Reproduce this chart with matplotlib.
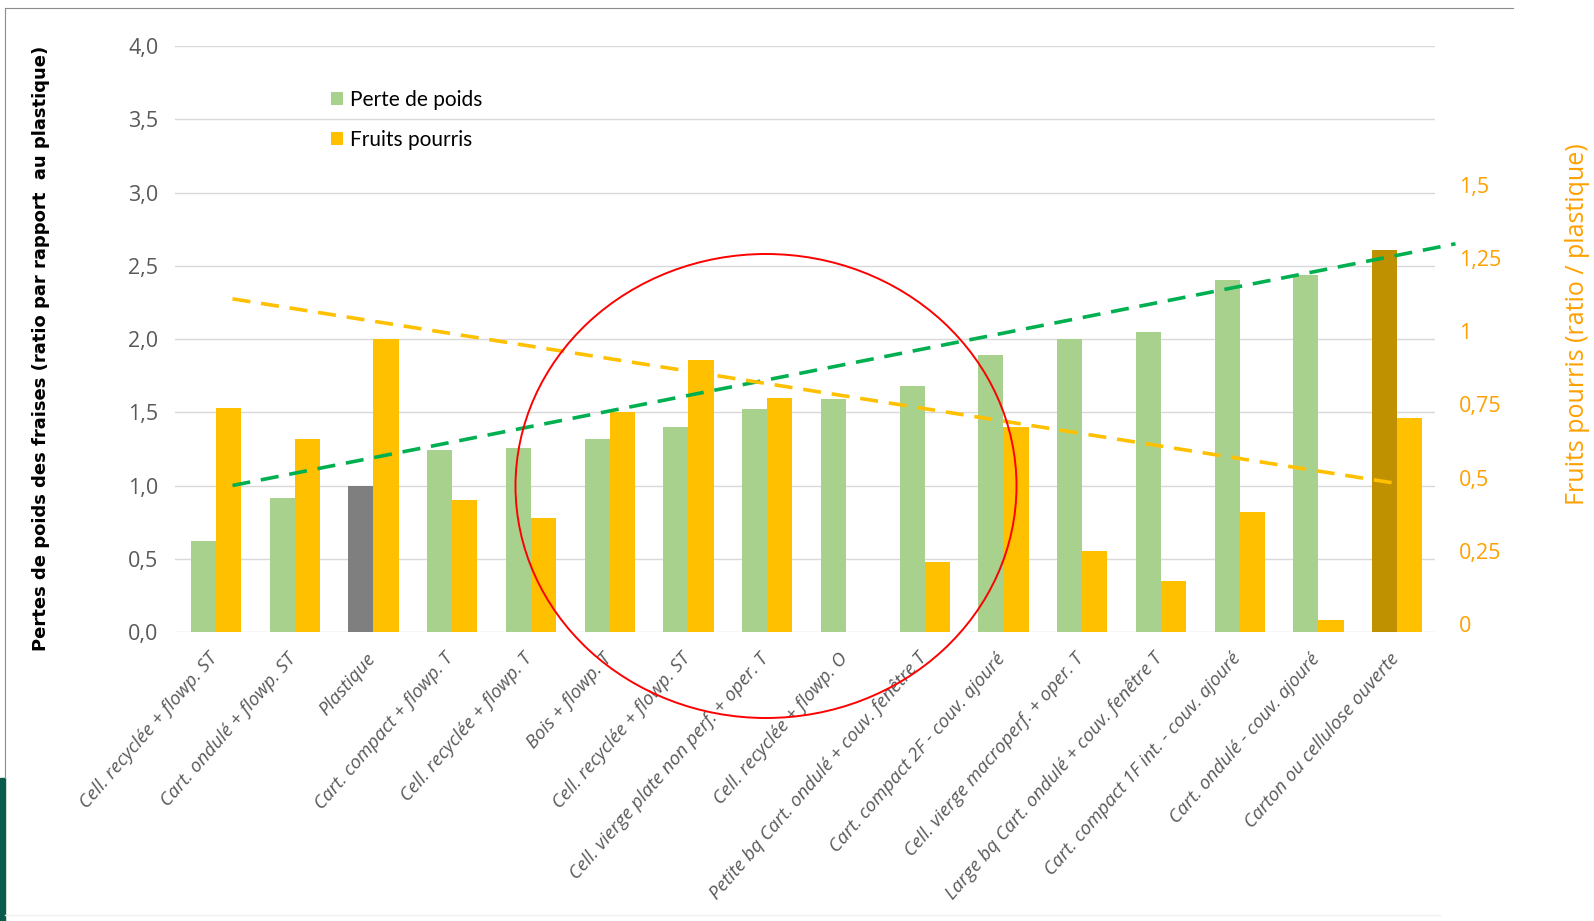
import matplotlib.pyplot as plt
import matplotlib.transforms as mtransforms
from matplotlib.patches import Ellipse, Rectangle
from matplotlib.lines import Line2D
import numpy as np

# categories (emballages)
categories = [
    "Cell. recyclée + flowp. ST",
    "Cart. ondulé + flowp. ST",
    "Plastique",
    "Cart. compact + flowp. T",
    "Cell. recyclée + flowp. T",
    "Bois + flowp. T",
    "Cell. recyclée + flowp. ST",
    "Cell. vierge plate non perf. + oper. T",
    "Cell. recyclée + flowp. O",
    "Petite bq Cart. ondulé + couv. fenêtre T",
    "Cart. compact 2F - couv. ajouré",
    "Cell. vierge macroperf. + oper. T",
    "Large bq Cart. ondulé + couv. fenêtre T",
    "Cart. compact 1F int. - couv. ajouré",
    "Cart. ondulé - couv. ajouré",
    "Carton ou cellulose ouverte",
]

# perte de poids (ratio / plastique), axe gauche
perte_poids = [0.62, 0.915, 1.0, 1.24, 1.255, 1.32, 1.40, 1.525,
               1.59, 1.68, 1.89, 2.0, 2.045, 2.40, 2.44, 2.61]

# fruits pourris (ratio / plastique), axe droit
fruits_pourris = [0.765, 0.66, 1.0, 0.45, 0.39, 0.75, 0.93, 0.80,
                  0.0, 0.24, 0.70, 0.275, 0.175, 0.41, 0.04, 0.73]

# tendances (debut / fin)
trend_x_vert = [0.23, 15.76]
trend_y_vert = [1.0, 2.65]
trend_x_orange = [0.23, 15.41]
trend_y_orange = [1.137, 0.49]

left_ticks = [0, 0.5, 1.0, 1.5, 2.0, 2.5, 3.0, 3.5, 4.0]
right_ticks = [0, 0.25, 0.5, 0.75, 1.0, 1.25, 1.5]
right_labels = ["0", "0,25", "0,5", "0,75", "1", "1,25", "1,5"]

GREEN = "#A9D18E"
ORANGE = "#FFC000"
GREY = "#7F7F7F"
GOLD = "#BF9000"
TXT = "#595959"
ORANGE_TXT = "#FFA000"

W, H = 1594, 921
fig = plt.figure(figsize=(W / 100, H / 100), dpi=100)
ax = fig.add_axes([175 / W, 1 - 632 / H, 1260 / W, (632 - 46) / H])
ax2 = ax.twinx()

x = np.arange(len(categories))
bw = 0.32
colors = [GREEN] * len(categories)
colors[2] = GREY
colors[-1] = GOLD
b1 = ax.bar(x - bw / 2 + 0.02, perte_poids, bw, color=colors, zorder=2, label="Perte de poids")
b2 = ax2.bar(x + bw / 2 + 0.02, fruits_pourris, bw, color=ORANGE, zorder=2, label="Fruits pourris")

# lignes de tendance au-dessus des barres
ax2.plot(trend_x_vert, trend_y_vert, transform=ax.transData, color="#00B050",
         lw=2.6, ls=(0, (5, 3)), clip_on=False, zorder=5)
ax2.plot(trend_x_orange, trend_y_orange, color=ORANGE,
         lw=2.6, ls=(0, (5, 3)), clip_on=False, zorder=5)

ax.set_xlim(-0.5, 15.5)
ax.set_ylim(0, 4)
ax2.set_ylim(0, 2)

ax.set_yticks(left_ticks)
ax.set_yticklabels([f"{v:.1f}".replace(".", ",") for v in left_ticks],
                   fontfamily="Open Sans", fontsize=15.5, color=TXT)
ax2.set_yticks(right_ticks)
ax2.set_yticklabels(right_labels, fontfamily="Open Sans", fontsize=15.5, color=ORANGE_TXT)
ax.tick_params(axis="y", length=0, pad=12)
ax2.tick_params(axis="y", length=0, pad=17)
off = mtransforms.ScaledTranslation(0, 8 / 100, fig.dpi_scale_trans)
for lab in ax2.get_yticklabels():
    lab.set_transform(lab.get_transform() + off)

ax.set_xticks(x)
ax.set_xticklabels(categories, rotation=49, ha="right", va="center",
                   rotation_mode="anchor", fontfamily="Open Sans", style="italic",
                   fontsize=13.5, color=TXT)
ax.tick_params(axis="x", length=0, pad=17)

for a in (ax, ax2):
    for s in a.spines.values():
        s.set_visible(False)
ax.yaxis.grid(True, color="#D9D9D9", lw=1)
ax.set_axisbelow(True)

fig.legend(handles=[b1, b2], loc="upper left", bbox_to_anchor=(312 / W, 1 - 71 / H),
           frameon=False, prop={"family": "Lato", "size": 15},
           handlelength=0.6, handleheight=0.6, handletextpad=0.3, labelspacing=0.95)

fig.text(41 / W, 1 - 348 / H, "Pertes de poids des fraises (ratio par rapport  au plastique)",
         rotation=90, ha="center", va="center", fontsize=13, fontweight="bold", color="black")
fig.text(1577 / W, 1 - 324 / H, "Fruits pourris (ratio / plastique)",
         rotation=90, ha="center", va="center", fontsize=18, fontfamily="Open Sans",
         color=ORANGE_TXT)

# cercle rouge
fig.patches.append(Ellipse((766 / W, 1 - 486 / H), 501 / W, 464 / H,
                           transform=fig.transFigure, fill=False, ec="red", lw=1.4))

# cadre de la diapositive
fig.add_artist(Line2D([5 / W, 1513 / W], [1 - 8 / H, 1 - 8 / H], color="#8C8C8C", lw=0.8))
fig.add_artist(Line2D([5 / W, 5 / W], [1 - 8 / H, 1 - 778 / H], color="#8C8C8C", lw=0.8))
fig.add_artist(Line2D([5 / W, 1440 / W], [1 - 915 / H, 1 - 915 / H], color="#F0F0F0", lw=1))
fig.patches.append(Rectangle((0, 0), 5 / W, (921 - 778) / H, transform=fig.transFigure,
                             color="#0B5B4C"))

fig.savefig("out.png", dpi=100)
